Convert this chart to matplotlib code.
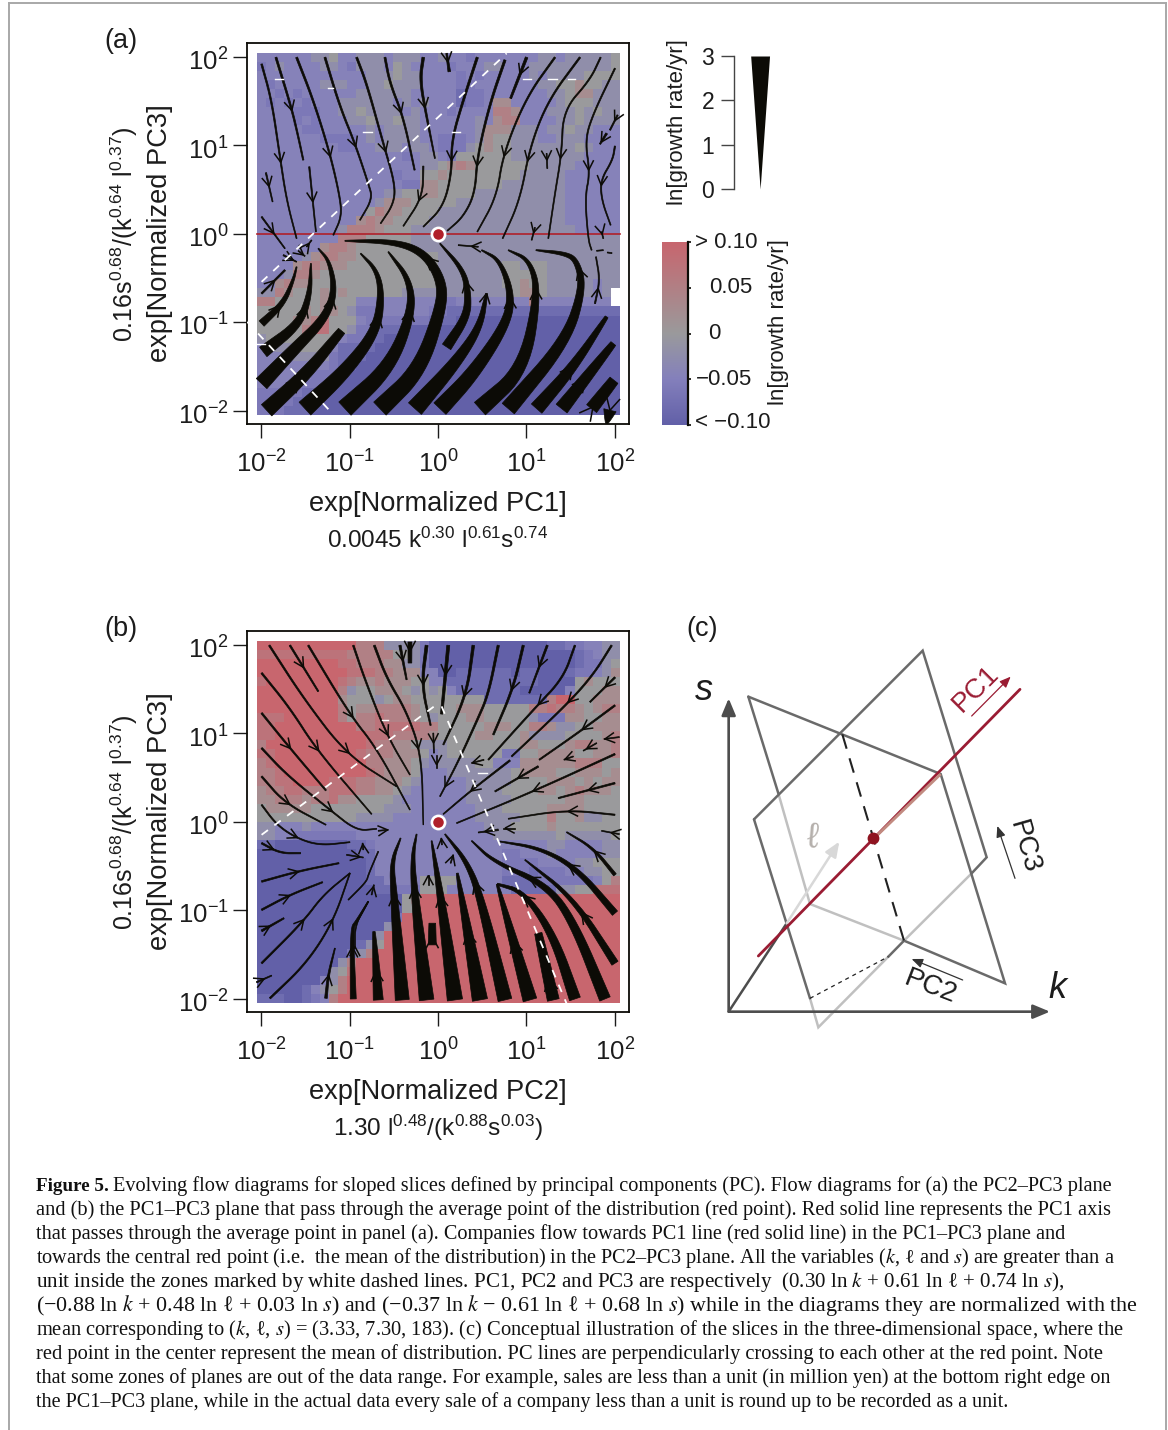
import numpy as np
import matplotlib
matplotlib.use("Agg")
import matplotlib.pyplot as plt
from matplotlib.colors import LinearSegmentedColormap
from matplotlib.lines import Line2D
from matplotlib.transforms import ScaledTranslation

W, H = 1168, 1430
plt.rcParams['font.family'] = ['Liberation Sans', 'DejaVu Sans']
plt.rcParams['mathtext.fontset'] = 'custom'
plt.rcParams['mathtext.rm'] = 'Liberation Sans'
plt.rcParams['mathtext.it'] = 'Liberation Sans:italic'
plt.rcParams['mathtext.default'] = 'regular'
plt.rcParams['axes.unicode_minus'] = True
INK = '#0c0b06'
TXT = '#1c1c1c'
RED = '#b0202a'

# ---------- data -----------------------------------------------------------
TICK_EXPONENTS = [-2, -1, 0, 1, 2]
TICK_LABELS = ['$10^{-2}$', '$10^{-1}$', '$10^{0}$', '$10^{1}$', '$10^{2}$']
GROWTH_STOPS = [-0.10, -0.05, 0.0, 0.10]
GROWTH_COLOURS = ['#6260a8', '#8480bc', '#9a9a9c', '#c8666e']
GRID_LEVELS = [-0.10, -0.08, -0.062, -0.046, -0.022, 0.0, 0.025, 0.05, 0.075, 0.10]   # char '0'..'9'
GRID_X_EDGES = (-2.053, 2.06)
GRID_Y_EDGES = (2.05, -2.053)

GRID_A = [
 "3333334453344434443343323333333443444445",
 "2343333443244435433332333443334444444445",
 "3333333333334445443333232333334344445555",
 "3233333444334454443333223333333445565544",
 "3323233333344444433333122333333344566444",
 "3232323334444443434333122366333334555444",
 "3333222334454444343332333377633344454544",
 "3333232333445445443333334367733334454444",
 "3333322333334344443333334666444344544333",
 "3333333222234344443322234655444334443333",
 "3333333332233444344322245655444444454333",
 "3333333333333333234432555555444444443333",
 "3333333333333333334456765555554444433333",
 "3333333333333332335565555555544444333333",
 "3333333333333333226655555554444444333333",
 "3333333333333344556655554444444444333333",
 "3333333333333466655555444444444444333333",
 "3333333333335766555544444444444444333333",
 "3333333333367665555444444444444444333333",
 "3333333334777655544444444444444444433333",
 "3333333337775555544444444444444444444444",
 "3333333677655555544444444444444444444444",
 "3333346776655555555544444444444444444444",
 "3333677666555555555544444445545544444444",
 "3334776555555555555544444445555544444444",
 "3367665555555555555544444445565544444344",
 "447655565655555544444444444456654444434.",
 "775555565553333333332233333333733333333.",
 "5555565665422333333221111111111111111111",
 "5555667855532222222111000000000000000000",
 "5555578855422111000000000000000000000000",
 "4555555553221100000000000000000000000000",
 "3344555531111000000000000000000000000000",
 "3333444421110000000000000000000000000000",
 "3333333321100000000000000000000000000000",
 "3333332221000000000000000000000000000000",
 "3333322210000000000000000000000000000000",
 "2222211100000000000000000000000000000000",
 "2222111000000000000000000000000000000000",
 "2221110000000000000000000000000000000000",
]
GRID_B = [
 "9999999999977744442000000000000011223344",
 "8888888888777775542000000000000000012344",
 "9999999998877766442000000000000000012245",
 "9999999999888776663300111111011000122346",
 "8999999998766766655331111111111000056555",
 "9999999997455666545453111111100000355566",
 "9999999996555456655555555111111179955666",
 "9999999997566777765555666555557787765677",
 "8889999997577877765455566555554222665566",
 "8899999999977888887755555666557764455666",
 "8899999999998887777655556655564444555567",
 "7999999999998776654445555555566555677667",
 "8899999999987776665345555552255666655667",
 "7899999999997766654344445533366666677755",
 "7789999999998766653334444444566665566656",
 "7788999988877666543333344444555566656566",
 "6778877788877665433333344445555665676665",
 "6677767786655554333333344444555555665555",
 "5666665555555544433333334445555566665555",
 "5555555555544443333333334444455575564455",
 "4433343333333333333333333444555565555555",
 "4433222222233333333333333344444445444445",
 "1100000000112333333333333333333344333344",
 "0000000000011333333333333332233343333344",
 "0000000000001333333333333332222333344555",
 "0000000000001333333333333332221222334455",
 "0000000000001133335555333331111222222357",
 "0000000000000112225553333333111114455888",
 "0000000000000000569999999999999999999999",
 "0000000000000000559999999999999999999999",
 "0000000000000002999999999999999999999999",
 "0000000000000049999999999999999999999999",
 "0000000000000499999999999999999999999999",
 "0000000000014599999999999999999999999999",
 "0000000000247999999999999999999999999999",
 "0000000004799999999999999999999999999999",
 "0000000045899999999999999999999999999999",
 "0000000347999999999999999999999999999999",
 "0000013457999999999999999999999999999999",
 "1110012379999999999999999999999999999999",
]

# Readings are on a ruler with 265 units per decade, 10^0 at (594, 581), y downward.
RULER_ORIGIN_X, RULER_ORIGIN_Y, RULER_PER_DECADE = 594.0, 581.0, 265.0

STREAMS_A = [
 ([(65,72),(95,180),(120,350),(140,480),(170,595)],5,3,(120,365)),
 ([(108,52),(155,205),(175,290),(190,360)],6,4,(155,210)),
 ([(170,52),(220,180),(270,340),(300,470),(305,530),(280,585)],6,3,(272,350)),
 ([(255,52),(300,200),(345,310),(385,430),(398,475),(360,540)],6,3,(345,320)),
 ([(350,52),(380,130),(430,310),(465,430),(462,490),(422,550)],6,3,(435,335)),
 ([(435,52),(450,130),(490,230),(524,390)],6,4,(480,220)),
 ([(550,52),(540,120),(560,230),(585,355)],8,3,(545,205)),
 ([(712,52),(670,180),(635,300),(635,400),(610,500),(550,560)],7,3,(635,360)),
 ([(795,60),(750,190),(712,350),(705,460),(670,530),(622,572)],7,3,(712,380)),
 ([(860,52),(812,175)],8,6,(832,100)),
 ([(945,52),(860,170),(790,340),(770,470),(712,575)],5,3,(790,345)),
 ([(1020,52),(925,180),(870,320),(840,480),(788,595)],5,3,(865,360)),
 ([(1082,52),(1050,120),(970,210),(965,340),(945,460),(925,595)],4,3,(965,355)),
 ([(1125,85),(1060,220),(1035,300),(1050,400),(1035,470),(1045,600),(1055,630)],4,3,(1048,390)),
 ([(1133,225),(1110,270)],4,4,(1120,240)),
 ([(1125,318),(1118,360),(1082,420),(1085,480),(1112,555)],4,3,(1078,435)),
 ([(1100,280),(1080,312)],6,4,(1082,305)),
 ([(620,40),(628,95)],5,8,(630,65)),
 ([(920,340),(922,385)],3,3,(921,360)),
 ([(885,562),(875,600)],3,3,(884,578)),
 ([(1085,575),(1090,595)],3,3,(1086,582)),
 ([(78,398),(98,485)],4,3,(82,440)),
 ([(65,530),(135,625)],4,3,(100,580)),
 ([(208,380),(228,575)],4,3,(220,485)),
 ([(550,378),(548,470),(490,558)],4,3,(545,485)),
 ([(200,620),(215,600)],3,3,(208,610)),
 ([(130,645),(170,665)],4,3,(160,660)),
 ([(175,632),(195,648)],3,3,(190,645)),
 ([(70,935),(180,850),(210,760),(213,670)],36,3,(185,795)),
 ([(65,850),(130,790),(160,720),(170,680)],22,3,(118,795)),
 ([(65,760),(135,690)],5,5,(105,722)),
 ([(65,1030),(170,920),(250,840),(285,760),(270,665),(235,625)],44,3,(280,770)),
 ([(80,1110),(200,1000),(305,872)],46,24,(165,1000)),
 ([(195,1105),(320,990),(410,870),(425,760),(410,690),(362,640)],52,3,(417,825)),
 ([(315,1105),(450,980),(515,820),(510,720),(445,635)],54,3,(512,810)),
 ([(420,1105),(540,990),(605,800),(605,720),(555,640),(470,605),(315,602)],54,3,(560,648)),
 ([(620,920),(680,830),(685,760),(670,690),(600,610)],30,3,(678,725)),
 ([(525,1105),(650,965),(720,860),(740,760)],52,6,(735,740)),
 ([(600,1105),(700,1000),(800,850),(815,760),(780,660),(725,630)],50,3,(808,770)),
 ([(720,1105),(850,990),(895,760),(870,660),(805,630)],50,3,(898,745)),
 ([(805,1105),(980,900),(1030,740),(1010,660),(975,640),(888,630)],48,3,(1020,685)),
 ([(890,1105),(1000,980),(1100,830)],42,10,(985,968)),
 ([(965,1105),(1120,910)],42,18,(1030,1012)),
 ([(1055,1105),(1122,1020)],38,30,(1040,1085)),
 ([(1110,1110),(1100,1150)],38,6,(1105,1090)),
 ([(1065,790),(1080,720),(1068,650)],4,3,(1075,745)),
 ([(1070,632),(1090,630)],3,3,None),
 ([(1102,637),(1116,639)],3,3,None),
 ([(715,620),(655,615)],3,3,(695,618)),
]
WHITE_TICKS_A = [(105,128,118),(265,280,145),(370,396,277),(850,873,118),(925,950,118),
                 (985,1005,118),(637,660,277),(50,75,912)]
DASHED_A = [[(65,725),(800,40)], [(22,845),(270,1112)]]
HLINE_A = (50, 1140, 581)

STREAMS_B = [
 ([(150,52),(235,190)],5,4,(187,120)),
 ([(88,52),(190,210),(320,380),(470,475)],5,3,(320,380)),
 ([(65,135),(150,240),(230,365),(395,558)],5,3,(228,372)),
 ([(65,255),(150,360),(258,487)],5,4,(150,362)),
 ([(65,360),(140,440),(270,545),(350,608),(410,602)],5,3,(275,550)),
 ([(65,445),(135,525),(258,590)],5,3,(148,532)),
 ([(65,530),(110,590),(170,630),(240,652),(330,642)],4,3,(172,632)),
 ([(205,52),(330,260),(410,360),(510,545)],5,3,(335,268)),
 ([(340,52),(375,155),(440,320),(510,440)],5,3,(440,325)),
 ([(403,52),(440,150),(500,250),(545,380),(550,590)],6,2,(525,362)),
 ([(480,52),(500,155)],7,4,(486,98)),
 ([(510,42),(510,105)],12,11,(510,70)),
 ([(560,52),(545,170),(572,292)],9,4,(550,170)),
 ([(625,52),(605,258)],9,7,(612,140)),
 ([(700,52),(680,200),(610,350)],8,4,(680,208)),
 ([(775,52),(745,200),(710,280),(655,400),(600,505)],7,3,(612,475)),
 ([(850,52),(820,180),(760,320)],7,5,(820,188)),
 ([(922,52),(868,195)],6,4,(905,118)),
 ([(1005,52),(970,150),(885,240),(745,395)],5,4,(898,232)),
 ([(1115,52),(1060,140),(980,230),(815,385)],5,4,(990,228)),
 ([(1125,148),(1050,222)],5,4,(1098,178)),
 ([(1125,232),(1020,310),(898,395)],5,4,(1030,310)),
 ([(810,397),(690,490),(610,558)],5,3,(690,487)),
 ([(895,415),(765,490)],5,4,(835,452)),
 ([(1125,378),(880,490),(650,585)],5,3,(880,488)),
 ([(1125,465),(955,510)],5,4,(1045,487)),
 ([(1125,560),(980,545),(805,572)],4,3,(985,548)),
 ([(580,315),(582,375)],3,3,(580,345)),
 ([(590,380),(590,420)],3,3,(590,410)),
 ([(732,395),(695,405)],3,3,(697,404)),
 ([(1138,327),(1092,333)],3,3,(1095,332)),
 ([(1070,345),(1030,368)],3,3,(1040,362)),
 ([(1000,385),(972,395)],3,3,(975,394)),
 ([(825,600),(790,600)],3,3,(795,600)),
 ([(775,605),(715,613)],5,3,(735,612)),
 ([(1138,618),(1085,608)],3,3,(1112,622)),
 ([(1125,740),(1060,660),(980,612)],10,3,(1068,665)),
 ([(1125,855),(1010,720),(900,660),(780,640)],20,3,(970,730)),
 ([(1125,1005),(1000,810),(855,695)],22,3,(995,875)),
 ([(1095,1112),(1000,880),(920,770),(760,700),(695,638)],34,3,(850,780)),
 ([(1005,1112),(940,920),(850,790),(772,768)],34,6,(855,800)),
 ([(940,1115),(895,915)],36,22,(925,1050)),
 ([(340,1112),(335,900),(350,880),(385,820)],18,3,(335,955)),
 ([(415,1115),(402,910)],30,7,(405,1025)),
 ([(487,1115),(462,800),(455,700),(482,630)],42,3,(458,800)),
 ([(560,1115),(522,780),(518,680),(530,618)],44,3,(520,775)),
 ([(645,1115),(600,790),(575,638)],46,3,(603,800)),
 ([(720,1115),(652,735)],46,6,(690,910)),
 ([(795,1115),(720,800),(680,700),(615,618)],42,3,(712,762)),
 ([(870,1115),(772,768)],42,6,(840,930)),
 ([(577,950),(577,885)],24,20,(580,925)),
 ([(565,770),(565,740)],3,3,(565,742)),
 ([(632,705),(640,680)],3,3,(640,682)),
 ([(606,650),(604,630)],3,3,(605,632)),
 ([(258,1110),(265,1040),(285,960)],8,3,(260,1040)),
 ([(90,1110),(200,1005),(280,880),(330,735)],5,3,(270,872)),
 ([(65,1005),(190,880),(250,800),(330,735)],5,3,(190,872)),
 ([(65,845),(150,800),(248,762)],5,4,(150,805)),
 ([(65,760),(180,728),(297,705)],5,4,(175,730)),
 ([(65,645),(120,675),(182,675)],5,4,(100,665)),
 ([(65,908),(132,870)],6,4,(90,895)),
 ([(50,1062),(95,1042)],4,3,(75,1058)),
 ([(320,680),(370,688)],3,3,(360,688)),
 ([(370,665),(368,645)],3,3,(368,648)),
 ([(415,670),(385,740),(380,760),(325,815)],3,3,None),
 ([(395,800),(402,770)],3,3,(400,775)),
 ([(415,608),(445,605)],3,3,(443,606)),
 ([(345,960),(345,890),(385,820)],3,3,(345,955)),
]
WHITE_TICKS_B = [(425,445,275),(715,740,436)]
DASHED_B = [[(65,620),(600,222)], [(605,235),(990,1150)]]

# Legend values
WIDTH_TICKS = [0, 1, 2, 3]
COLOUR_TICKS = [-0.10, -0.05, 0.0, 0.05, 0.10]
COLOUR_TICK_LABELS = ['< \u22120.10', '\u22120.05', '0', '0.05', '> 0.10']

# Panel (c) schematic, in schematic units
ORIGIN_C = (146, 1205)
S_TIP, K_TIP = (146, 265), (1110, 1205)
L_BEND, L_TIP = (320, 940), (478, 695)
PLANE_DARK = [[(205,260),(782,492),(975,1120),(672,992)],
              [(205,260),(295,550)],
              [(222,628),(728,122),(920,742),(875,790)],
              [(222,628),(390,1165)],
              [(672,992),(625,1040)]]
PLANE_LIGHT = [[(295,550),(390,882),(672,992)],
               [(875,790),(672,992)],
               [(625,1040),(415,1252),(390,1165)]]
PC1_LINE = [(235,1038),(1020,238)]
PC1_FADED = [(582,685),(782,492)]
PC1_CENTRE = (580,685)
DASH_THICK = [(487,373),(672,992)]
DASH_THIN = [(390,1165),(625,1040)]

CAPTION_LEAD = "Figure 5."
CAPTION_LINES = [
 "Evolving flow diagrams for sloped slices defined by principal components (PC). Flow diagrams for (a) the PC2\u2013PC3 plane",
 "and (b) the PC1\u2013PC3 plane that pass through the average point of the distribution (red point). Red solid line represents the PC1 axis",
 "that passes through the average point in panel (a). Companies flow towards PC1 line (red solid line) in the PC1\u2013PC3 plane and",
 "towards the central red point (i.e.  the mean of the distribution) in the PC2\u2013PC3 plane. All the variables ($\\mathit{k}$, $\\ell$ and $\\mathit{s}$) are greater than a",
 r"unit inside the zones marked by white dashed lines. PC1, PC2 and PC3 are respectively  (0.30 ln $\mathit{k}$ + 0.61 ln $\ell$ + 0.74 ln $\mathit{s}$),",
 "(\u22120.88 ln $\\mathit{k}$ + 0.48 ln $\\ell$ + 0.03 ln $\\mathit{s}$) and (\u22120.37 ln $\\mathit{k}$ \u2212 0.61 ln $\\ell$ + 0.68 ln $\\mathit{s}$) while in the diagrams they are normalized with the",
 r"mean corresponding to ($\mathit{k}$, $\ell$, $\mathit{s}$) = (3.33, 7.30, 183). (c) Conceptual illustration of the slices in the three-dimensional space, where the",
 "red point in the center represent the mean of distribution. PC lines are perpendicularly crossing to each other at the red point. Note",
 "that some zones of planes are out of the data range. For example, sales are less than a unit (in million yen) at the bottom right edge on",
 "the PC1\u2013PC3 plane, while in the actual data every sale of a company less than a unit is round up to be recorded as a unit.",
]
CAPTION_RIGHT_ENDS = [1112, 1114, 1069, 1114, 1062, 1138, 1127, 1110, 1117, 1011]

# ---------- helpers --------------------------------------------------------
fig = plt.figure(figsize=(W/100, H/100), dpi=100, facecolor='white')
cmap = LinearSegmentedColormap.from_list(
    'growth', [((v+0.1)/0.2, c) for v, c in zip(GROWTH_STOPS, GROWTH_COLOURS)])
cmap.set_bad('white')


def ax_px(l, t, r, b):
    return fig.add_axes([l/W, 1-b/H, (r-l)/W, (b-t)/H])


def chaikin(p, n=3):
    p = np.asarray(p, float)
    for _ in range(n):
        if len(p) < 3:
            break
        q = [p[0]]
        for a, b in zip(p[:-1], p[1:]):
            q += [0.75*a+0.25*b, 0.25*a+0.75*b]
        q.append(p[-1])
        p = np.array(q)
    return p


def ruler_to_log(p):
    p = np.asarray(p, float)
    return (p[..., 0]-RULER_ORIGIN_X)/RULER_PER_DECADE, (RULER_ORIGIN_Y-p[..., 1])/RULER_PER_DECADE


def ruler_plot(ax, pts, **kw):
    x, y = ruler_to_log(pts)
    ax.plot(10.0**x, 10.0**y, **kw)


def draw_stream(ax, path, w0, w1, arrow):
    p = chaikin(path)
    s = np.r_[0, np.cumsum(np.hypot(*np.diff(p, axis=0).T))]
    f = np.linspace(0, 1, 120)
    p = np.c_[np.interp(f*s[-1], s, p[:, 0]), np.interp(f*s[-1], s, p[:, 1])]
    w = w1+(w0-w1)*(1-f)**0.85
    t = np.gradient(p, axis=0)
    t /= np.hypot(*t.T)[:, None]
    n = np.c_[-t[:, 1], t[:, 0]]
    poly = np.r_[p+n*w[:, None]/2, (p-n*w[:, None]/2)[::-1]]
    x, y = ruler_to_log(poly)
    ax.fill(10.0**x, 10.0**y, color=INK, lw=0.5, zorder=4)
    if arrow is not None:
        i = np.argmin(np.hypot(*(p-np.array(arrow)).T))
        tip = p[i]
        for ang in (28, -28):
            a = np.deg2rad(ang)
            d = np.array([t[i, 0]*np.cos(a)-t[i, 1]*np.sin(a), t[i, 0]*np.sin(a)+t[i, 1]*np.cos(a)])
            ruler_plot(ax, [tip, tip-d*(32+w[i]*0.35)], color=INK, lw=1.1, zorder=4,
                       solid_capstyle='butt')


def flow_panel(top, grid, streams, dashed, ticks, hline=None):
    ax = ax_px(247.3, top, 629.3, top+381)
    ax.set_xscale('log')
    ax.set_yscale('log')
    ax.set_xlim(10**-2.158, 10**2.166)
    ax.set_ylim(10**-2.155, 10**2.155)
    z = np.array([[np.nan if c == '.' else GRID_LEVELS[int(c)] for c in r] for r in grid])
    xe = 10.0**np.linspace(*GRID_X_EDGES, z.shape[1]+1)
    ye = 10.0**np.linspace(*GRID_Y_EDGES, z.shape[0]+1)
    ax.pcolormesh(xe, ye, z, cmap=cmap, vmin=-0.1, vmax=0.1, shading='flat', rasterized=True,
                  zorder=1)
    if hline is not None:
        ruler_plot(ax, [(hline[0], hline[2]), (hline[1], hline[2])], color=RED, lw=1.2, zorder=3)
    for path, w0, w1, arrow in streams:
        draw_stream(ax, path, w0, w1, arrow)
    for seg in dashed:
        ruler_plot(ax, seg, color='white', lw=1.3, dashes=(4.4, 4.4), zorder=5)
    for x0, x1, y in ticks:
        ruler_plot(ax, [(x0, y), (x1, y)], color='white', lw=1.0, zorder=5)
    ax.plot([1], [1], 'o', ms=9.5, mfc=RED, mec='white', mew=1.9, zorder=6)
    pos = [10.0**e for e in TICK_EXPONENTS]
    for axis in (ax.xaxis, ax.yaxis):
        axis.set_ticks(pos, TICK_LABELS)
        axis.set_minor_locator(matplotlib.ticker.NullLocator())
    ax.tick_params(length=10, width=1.0, labelsize=18.6, colors=TXT)
    ax.tick_params(axis='x', pad=8.5)
    ax.tick_params(axis='y', pad=3.5)
    nudge = ScaledTranslation(0, -2/72, fig.dpi_scale_trans)
    for lab in ax.get_yticklabels():
        lab.set_transform(lab.get_transform()+nudge)
    for sp in ax.spines.values():
        sp.set_linewidth(1.3)
        sp.set_color(INK)
    return ax


def ptext(x, y, s, **kw):
    kw.setdefault('color', TXT)
    kw.setdefault('fontsize', 18)
    kw.setdefault('ha', 'center')
    kw.setdefault('va', 'center')
    return fig.text(x/W, 1-y/H, s, **kw)

# ---------- panels (a), (b) ------------------------------------------------
flow_panel(43.3, GRID_A, STREAMS_A, DASHED_A, WHITE_TICKS_A, HLINE_A)
flow_panel(631.3, GRID_B, STREAMS_B, DASHED_B, WHITE_TICKS_B)

for dy, lab, sub in [(0, 'exp[Normalized PC1]', '0.0045 k$^{0.30}$ l$^{0.61}$s$^{0.74}$'),
                     (588, 'exp[Normalized PC2]', '1.30 l$^{0.48}$/(k$^{0.88}$s$^{0.03}$)')]:
    ptext(438, 504+dy, lab, fontsize=19.6)
    ptext(438, 540+dy, sub, fontsize=17.6)
    ptext(160, 233+dy, 'exp[Normalized PC3]', rotation=90, fontsize=19.6)
    ptext(124, 234+dy, '0.16s$^{0.68}$/(k$^{0.64}$ l$^{0.37}$)', rotation=90)
ptext(121, 41.5, '(a)', fontsize=19.5)
ptext(121, 629.5, '(b)', fontsize=19.5)
ptext(702, 629.5, '(c)', fontsize=19.5)

# ---------- width legend ---------------------------------------------------
lw_ax = ax_px(734.3, 56, 775, 189)
levels = np.array(WIDTH_TICKS, float)
lw_ax.set_xlim(-26, 15)
lw_ax.set_ylim(0, 3)
half = levels*9.5/3
lw_ax.fill_betweenx(levels, -half, half, color=INK, lw=0, clip_on=False)
lw_ax.patch.set_alpha(0)
for k in ('top', 'right', 'bottom'):
    lw_ax.spines[k].set_visible(False)
lw_ax.spines['left'].set_color('#444444')
lw_ax.spines['left'].set_linewidth(1.0)
lw_ax.set_xticks([])
lw_ax.set_yticks(WIDTH_TICKS, [str(v) for v in WIDTH_TICKS])
lw_ax.tick_params(axis='y', length=9.5, width=1.0, color='#444444', labelsize=16.5, labelcolor=TXT, pad=5)
ptext(678, 122, 'ln[growth rate/yr]', rotation=90, fontsize=16)

# ---------- colour legend --------------------------------------------------
cb = ax_px(662, 242, 688, 425)
cb.imshow(np.linspace(0.1, -0.1, 256)[:, None], cmap=cmap, vmin=-0.1, vmax=0.1, aspect='auto',
          extent=(0, 1, -0.1, 0.1))
for k in ('top', 'left', 'bottom'):
    cb.spines[k].set_visible(False)
cb.spines['right'].set_linewidth(1.6)
cb.spines['right'].set_color(INK)
cb.set_xticks([])
cb.yaxis.tick_right()
cb.set_yticks(COLOUR_TICKS, [''] * len(COLOUR_TICKS))
cb.tick_params(axis='y', length=2.2, width=1.2, color=INK)
LABEL_SPOTS = [(695, 'left'), (752, 'right'), (708, 'left'), (752, 'right'), (695, 'left')]
for v, s, (px, ha) in zip(COLOUR_TICKS, COLOUR_TICK_LABELS, LABEL_SPOTS):
    y = 425-(v+0.1)/0.2*183
    ptext(px, y-(3 if v == -0.1 else 0), s, ha=ha, fontsize=16)
ptext(778, 322, 'ln[growth rate/yr]', rotation=90, fontsize=16)

# ---------- panel (c) ------------------------------------------------------
c = ax_px(680, 610, 1080, 1050)
c.set_xlim(0, 1200)
c.set_ylim(1320, 0)
c.axis('off')
DARK, LIGHT = '#6a6a6a', '#c0c0c0'


def cplot(pts, **kw):
    pts = np.array(pts)
    c.plot(pts[:, 0], pts[:, 1], **kw)


def carrow(a, b, color, lw, size=11):
    c.annotate('', xy=b, xytext=a, arrowprops=dict(arrowstyle='-|>,head_width=0.25,head_length=0.6',
               color=color, lw=lw, shrinkA=0, shrinkB=0, mutation_scale=size))


cplot([ORIGIN_C, L_BEND], color='#4d4d4d', lw=1.8, solid_capstyle='butt', zorder=2)
carrow(L_BEND, L_TIP, '#d8d8d8', 1.8, 15)
for seg in PLANE_LIGHT:
    cplot(seg, color=LIGHT, lw=1.8, solid_capstyle='round', solid_joinstyle='miter', zorder=1)
for seg in PLANE_DARK:
    cplot(seg, color=DARK, lw=1.8, solid_capstyle='round', solid_joinstyle='miter', zorder=2)
carrow(ORIGIN_C, S_TIP, '#4d4d4d', 1.9, 17)
carrow(ORIGIN_C, K_TIP, '#4d4d4d', 1.9, 17)
cplot(DASH_THICK, color='#222222', lw=1.5, dashes=(7.2, 4.8), zorder=3)
cplot(DASH_THIN, color='#222222', lw=0.9, dashes=(3.2, 3.2), zorder=3)
cplot(PC1_LINE, color='#9a1c33', lw=2.0, zorder=4, solid_capstyle='round')
cplot(PC1_FADED, color='#c28a80', lw=2.1, zorder=5, solid_capstyle='butt')
c.plot(*PC1_CENTRE, 'o', ms=7.5, color='#8f1420', zorder=6)
carrow((875, 318), (992, 200), '#9a1c33', 0.9, 11)
carrow((1005, 805), (952, 648), '#333333', 0.9, 11)
carrow((848, 1110), (695, 1047), '#333333', 0.9, 11)
c.text(888, 238, 'PC1', rotation=45, color='#9a1c33', fontsize=20, ha='center', va='center')
c.text(1032, 712, 'PC3', rotation=-74, color=TXT, fontsize=20, ha='center', va='center')
c.text(752, 1130, 'PC2', rotation=-21, color=TXT, fontsize=20, ha='center', va='center')
c.text(72, 240, 's', style='italic', color=TXT, fontsize=26, ha='center', va='center')
c.text(1132, 1135, 'k', style='italic', color=TXT, fontsize=26, ha='center', va='center')
c.text(398, 685, r'$\ell$', color='#b5b0ac', fontsize=26, ha='center', va='center',
       math_fontfamily='stix', rotation=-5)

# ---------- caption --------------------------------------------------------
renderer = fig.canvas.get_renderer()
SERIF = ['Liberation Serif', 'DejaVu Serif']
lead = fig.text(36/W, 1-1191/H, CAPTION_LEAD, family=SERIF, weight='bold', fontsize=13.8, color='#111111')
lead_end = lead.get_window_extent(renderer).x1
for i, (line, end) in enumerate(zip(CAPTION_LINES, CAPTION_RIGHT_ENDS)):
    x0 = lead_end+4 if i == 0 else 36
    t = fig.text(x0/W, 1-(1191+24*i)/H, line, family=SERIF, fontsize=13.5, color='#111111',
                 math_fontfamily='stix')
    t.set_fontsize(13.5*(end-x0)/t.get_window_extent(renderer).width)

# ---------- page rule ------------------------------------------------------
for xs, ys in [((9, 9), (3, 1430)), ((9, 1166), (3, 3)), ((1166, 1166), (3, 1430))]:
    fig.add_artist(Line2D(np.array(xs)/W, 1-np.array(ys)/H, color='#a8a8a8', lw=1.4))

fig.savefig('out.png', dpi=100, facecolor='white')
